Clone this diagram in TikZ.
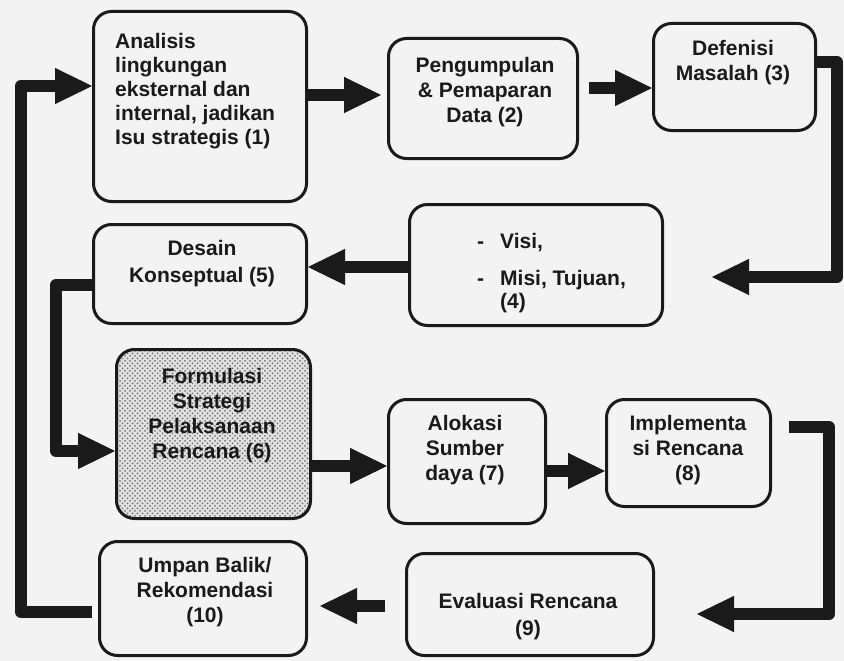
\documentclass[tikz,border=0pt]{standalone}
\usepackage{fontspec}
\setmainfont{Liberation Sans}
\usetikzlibrary{arrows.meta,patterns}
\definecolor{bgc}{HTML}{F3F3F3}
\definecolor{ink}{HTML}{1A1A1A}
\newcommand\fs{\rule{0pt}{17pt}}
\pgfdeclarepatternformonly{bigdots}{\pgfpoint{-1pt}{-1pt}}{\pgfpoint{4pt}{4pt}}{\pgfpoint{5pt}{5pt}}
{\pgfpathcircle{\pgfpoint{0pt}{0pt}}{1pt}\pgfpathcircle{\pgfpoint{2.5pt}{2.5pt}}{1pt}\pgfusepath{fill}}
\begin{document}
\begin{tikzpicture}[x=1pt,y=-1pt,
  box/.style={draw=ink, line width=3pt, rounded corners=18pt, inner sep=0pt},
  txt/.style={font=\fontsize{21}{25}\selectfont\bfseries, text=ink, inner sep=0pt, align=center, anchor=north},
  arr/.style={draw=ink, line width=12pt, line join=round, -{Triangle[length=37pt,width=36pt,line width=1pt]}}]
\fill[bgc] (0,0) rectangle (844,661);
\useasboundingbox (0,0) rectangle (844,661);

% boxes
\node[box, minimum width=213pt, minimum height=190pt] (b1) at (200,106.5) {};
\node[box, minimum width=189pt, minimum height=120pt] (b2) at (483,98.5) {};
\node[box, minimum width=162pt, minimum height=107pt] (b3) at (734.5,77) {};
\node[box, minimum width=253pt, minimum height=121pt] (b4) at (536,265) {};
\node[box, minimum width=213pt, minimum height=99pt] (b5) at (200,274) {};
\node[box, minimum width=194pt, minimum height=169pt, preaction={fill=gray!22},
      pattern=bigdots, pattern color=black!55] (b6) at (213.5,434) {};
\node[box, minimum width=157pt, minimum height=124pt] (b7) at (467,461.5) {};
\node[box, minimum width=164pt, minimum height=107pt] (b8) at (688.5,453) {};
\node[box, minimum width=247pt, minimum height=102pt] (b9) at (530,604.5) {};
\node[box, minimum width=207pt, minimum height=114pt] (b10) at (203,598.5) {};

% texts
\node[txt, font=\fontsize{21}{24}\selectfont\bfseries, align=left, anchor=north west] (t1) at (115,31)
  {\fs Analisis\\lingkungan\\eksternal dan\\internal, jadikan\\Isu strategis (1)};
\node[txt] (t2) at (485,55) {\fs Pengumpulan\\\& Pemaparan\\Data (2)};
\node[txt] (t3) at (733,38) {\fs Defenisi\\Masalah (3)};
\node[txt, align=left, anchor=north west] (t4) at (477,231)
  {\fs\makebox[23pt][l]{-}Visi,\\[12pt]\makebox[23pt][l]{-}Misi, Tujuan,\\[-2pt]\hspace*{23pt}(4)};
\node[txt, font=\fontsize{21}{27}\selectfont\bfseries] (t5) at (202,238) {\fs Desain\\Konseptual (5)};
\node[txt] (t6) at (212,366) {\fs Formulasi\\Strategi\\Pelaksanaan\\Rencana (6)};
\node[txt] (t7) at (465,413) {\fs Alokasi\\Sumber\\daya (7)};
\node[txt] (t8) at (688,413) {\fs Implementa\\si Rencana\\(8)};
\node[txt, font=\fontsize{21}{27}\selectfont\bfseries] (t9) at (528,591) {\fs Evaluasi Rencana\\(9)};
\node[txt] (t10) at (205,555) {\fs Umpan Balik/\\Rekomendasi\\(10)};

% connectors
\draw[arr, shorten >=6pt] (b1.east |- 0,95) -- (b2.west |- 0,95);
\draw[arr, shorten <=10pt] (b2.east |- 0,88) -- (b3.west |- 0,88);
\draw[arr, shorten >=48pt] (b3.east |- 0,62) -| (837,277) -- (b4.east |- 0,277);
\draw[arr] (b4.west |- 0,267) -- (b5.east |- 0,267);
\draw[arr] (b5.west |- 0,285) -| (56,451) -- (b6.west |- 0,451);
\draw[arr] (b6.east |- 0,466) -- (b7.west |- 0,466);
\draw[arr] (b7.east |- 0,471) -- (b8.west |- 0,471);
\draw[arr, shorten <=17pt, shorten >=42pt] (b8.east |- 0,427) -| (829,614) -- (b9.east |- 0,614);
\draw[arr, shorten <=20pt, shorten >=12pt] (b9.west |- 0,606) -- (b10.east |- 0,606);
\draw[arr, shorten <=6pt] (b10.west |- 0,612) -| (21,86) -- (b1.west |- 0,86);
\end{tikzpicture}
\end{document}
